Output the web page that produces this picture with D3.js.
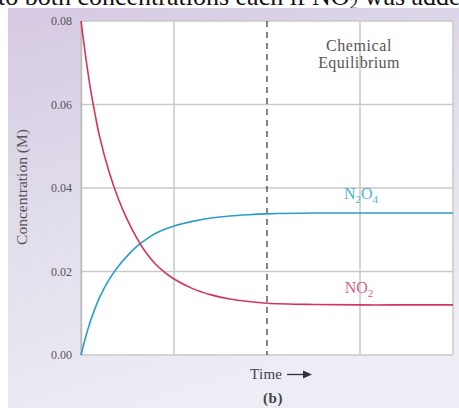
<!DOCTYPE html>
<html><head><meta charset="utf-8">
<script src="https://cdn.jsdelivr.net/npm/d3@7"></script>
<style>body{margin:0;background:#fff;overflow:hidden}</style>
</head><body>
<svg id="c" width="459" height="408"></svg>
<script>
const timeTicks = [0, 1, 2, 3, 4];
const concTicks = [0, 0.02, 0.04, 0.06, 0.08];
const concLabels = ["0.00", "0.02", "0.04", "0.06", "0.08"];
const times = [0, 0.05, 0.1, 0.15, 0.2, 0.3, 0.4, 0.5, 0.6, 0.7, 0.8, 0.9, 1.0, 1.2, 1.4, 1.6, 1.8, 2.0, 2.5, 3.0, 3.5, 4.0];
const no2 =   [0.080, 0.0715, 0.0640, 0.0578, 0.0523, 0.0440, 0.0375, 0.0323, 0.0280, 0.0245, 0.0218, 0.0198, 0.0182, 0.0159, 0.0144, 0.0134, 0.0128, 0.0124, 0.0121, 0.0120, 0.0120, 0.0120];
const n2o4 =  [0.000, 0.0043, 0.0080, 0.0111, 0.0138, 0.0180, 0.0212, 0.0238, 0.0260, 0.0277, 0.0291, 0.0301, 0.0309, 0.0320, 0.0328, 0.0333, 0.0336, 0.0338, 0.0340, 0.0340, 0.0340, 0.0340];
const equilibriumTime = 2;

const svg = d3.select("#c");
const defs = svg.append("defs");
const g1 = defs.append("linearGradient").attr("id","bg").attr("x1",0).attr("y1",0).attr("x2",0.35).attr("y2",1);
g1.append("stop").attr("offset","0%").attr("stop-color","#d5c9e3");
g1.append("stop").attr("offset","45%").attr("stop-color","#e0dbea");
g1.append("stop").attr("offset","100%").attr("stop-color","#eeedf5");

// cropped body text at top (cut off in the reference as well)
svg.append("text").attr("x", -2).attr("y", 5)
  .attr("font-family","Liberation Serif, serif").attr("font-size", 26).attr("fill","#111")
  .html('to both concentrations each if NO<tspan font-size="17" dy="4">2</tspan><tspan dy="-4"> was added</tspan>');

svg.append("rect").attr("x", 8).attr("y", 8).attr("width", 451).attr("height", 400).attr("fill","url(#bg)");

const L = 81, R = 453, T = 21, B = 355;
const x = d3.scaleLinear().domain([0, 4]).range([L, R]);
const y = d3.scaleLinear().domain([0, 0.08]).range([B, T]);

svg.append("rect").attr("x", L).attr("y", T).attr("width", R - L).attr("height", B - T).attr("fill","#fff");

// grid
svg.append("g").selectAll("line").data(concTicks).join("line")
  .attr("x1", L).attr("x2", R).attr("y1", d => y(d)).attr("y2", d => y(d))
  .attr("stroke","#c9c9c9").attr("stroke-width",1.5);
svg.append("g").selectAll("line").data(timeTicks.filter(t => t !== equilibriumTime)).join("line")
  .attr("x1", d => x(d)).attr("x2", d => x(d)).attr("y1", T).attr("y2", B)
  .attr("stroke","#c9c9c9").attr("stroke-width",1.5);

// dashed equilibrium line
svg.append("line").attr("x1", x(equilibriumTime)).attr("x2", x(equilibriumTime)).attr("y1", T).attr("y2", B)
  .attr("stroke","#333").attr("stroke-width",1.2).attr("stroke-dasharray","6,5");

// y axis
const yAxis = d3.axisLeft(y).tickValues(concTicks).tickFormat((d,i) => concLabels[i]).tickSize(0).tickPadding(9);
const ya = svg.append("g").attr("transform", `translate(${L},0)`).call(yAxis);
ya.select(".domain").attr("stroke","#bbb").attr("stroke-width",1.5);
ya.selectAll("text").attr("font-family","Liberation Serif, serif").attr("font-size",12).attr("fill","#555");

// lines
const pts = (vals) => times.map((t, i) => [t, vals[i]]);
const line = d3.line().x(d => x(d[0])).y(d => y(d[1])).curve(d3.curveCatmullRom.alpha(0.5));
svg.append("path").datum(pts(n2o4)).attr("d", line).attr("fill","none").attr("stroke","#2a9fc4").attr("stroke-width",1.6);
svg.append("path").datum(pts(no2)).attr("d", line).attr("fill","none").attr("stroke","#d4335e").attr("stroke-width",1.6);

// labels
svg.append("text").attr("x", 361).attr("y", 199).attr("text-anchor","middle")
  .attr("font-family","Liberation Serif, serif").attr("font-size",16).attr("fill","#4fb0d6")
  .html('N<tspan font-size="11" dy="4">2</tspan><tspan dy="-4">O</tspan><tspan font-size="11" dy="4">4</tspan>');
svg.append("text").attr("x", 359).attr("y", 293).attr("text-anchor","middle")
  .attr("font-family","Liberation Serif, serif").attr("font-size",16).attr("fill","#d8608a")
  .html('NO<tspan font-size="11" dy="4">2</tspan>');

svg.append("text").attr("x", 359).attr("y", 51).attr("text-anchor","middle")
  .attr("font-family","Liberation Serif, serif").attr("font-size",16).attr("letter-spacing",0.6).attr("fill","#555").text("Chemical");
svg.append("text").attr("x", 359).attr("y", 68).attr("text-anchor","middle")
  .attr("font-family","Liberation Serif, serif").attr("font-size",16).attr("letter-spacing",0.4).attr("fill","#555").text("Equilibrium");

// y axis title
svg.append("text").attr("transform","translate(27,187) rotate(-90)").attr("text-anchor","middle")
  .attr("font-family","Liberation Serif, serif").attr("font-size",15.5).attr("fill","#555").text("Concentration (M)");

// x title
svg.append("text").attr("x", 250).attr("y", 379)
  .attr("font-family","Liberation Serif, serif").attr("font-size",15).attr("letter-spacing",0.3).attr("fill","#444").text("Time");
svg.append("line").attr("x1", 287).attr("x2", 305).attr("y1", 374.5).attr("y2", 374.5).attr("stroke","#333").attr("stroke-width",1.3);
svg.append("path").attr("d","M303,370.5 L312,374.5 L303,378.5 Z").attr("fill","#333");
svg.append("text").attr("x", 273).attr("y", 403).attr("text-anchor","middle")
  .attr("font-family","Liberation Serif, serif").attr("font-size",15).attr("font-weight","bold").attr("letter-spacing",0.5).attr("fill","#444").text("(b)");
</script>
</body></html>
